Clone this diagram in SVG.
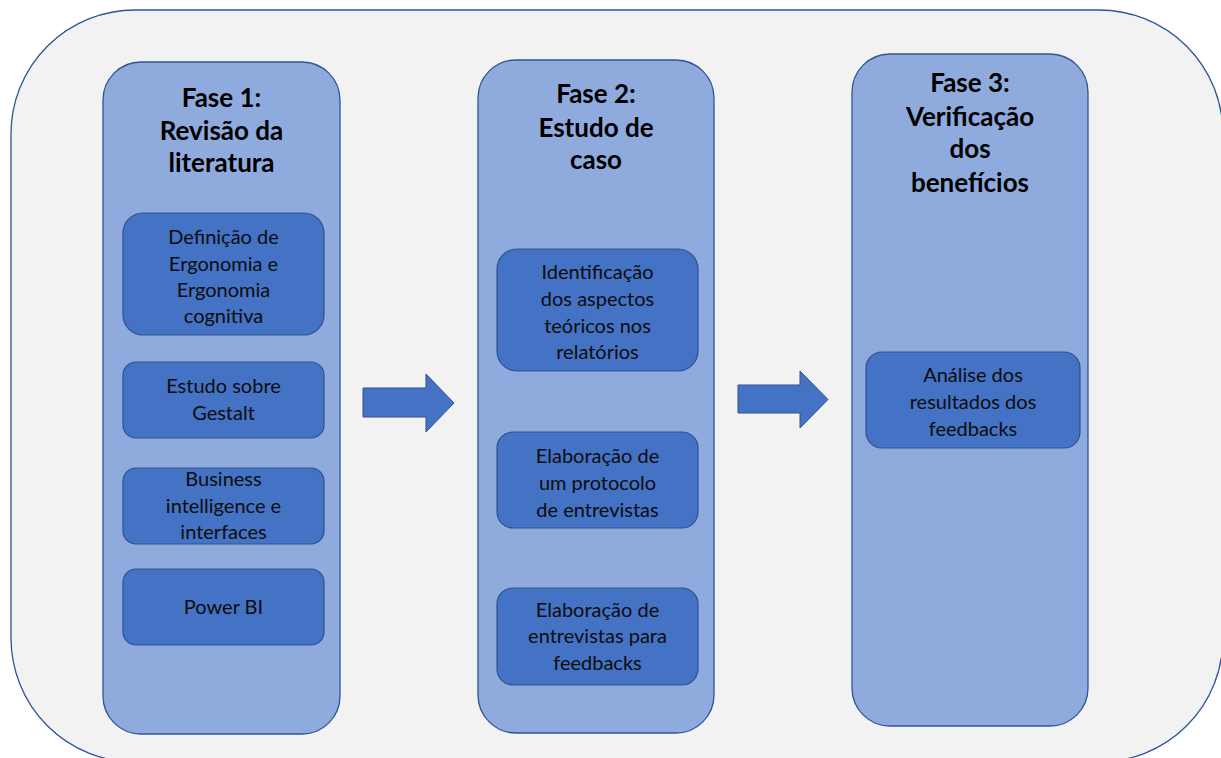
<svg xmlns="http://www.w3.org/2000/svg" width="1221" height="758" viewBox="0 0 1221 758">
<style>
.bg{fill:#ffffff}
.outer{fill:#F2F2F2;stroke:#2F5597;stroke-width:1.3}
.phase{fill:#8FAADC;stroke:#2F5597;stroke-width:1.3}
.item{fill:#4472C4;stroke:#2F528F;stroke-width:1.2}
.arrow{fill:#4472C4;stroke:#2F528F;stroke-width:1}
.title{font-family:Lato,"Open Sans",sans-serif;font-weight:bold;font-size:26px;fill:#000;text-anchor:middle}
.label{font-family:Lato,"Open Sans",sans-serif;font-size:20px;fill:#0d0d0d;text-anchor:middle}
</style>
<rect class="bg" x="0" y="0" width="1221" height="758"/>
<rect id="frame" class="outer" x="11" y="10" width="1212" height="752" rx="124"/>

<g id="phase1">
<rect class="phase" x="103" y="62" width="237" height="672" rx="38"/>
<text class="title" x="221.5" y="107">Fase 1:</text>
<text class="title" x="221.5" y="140">Revisão da</text>
<text class="title" x="221.5" y="172">literatura</text>
</g>
<g id="p1-def">
<rect class="item" x="123" y="213" width="201" height="122" rx="20"/>
<text class="label" x="223.5" y="244">Definição de</text>
<text class="label" x="223.5" y="271">Ergonomia e</text>
<text class="label" x="223.5" y="297">Ergonomia</text>
<text class="label" x="223.5" y="323">cognitiva</text>
</g>
<g id="p1-gestalt">
<rect class="item" x="123" y="362" width="201" height="76" rx="13"/>
<text class="label" x="223.5" y="393">Estudo sobre</text>
<text class="label" x="223.5" y="420">Gestalt</text>
</g>
<g id="p1-bi">
<rect class="item" x="123" y="468" width="201" height="76" rx="13"/>
<text class="label" x="223.5" y="486">Business</text>
<text class="label" x="223.5" y="513">intelligence e</text>
<text class="label" x="223.5" y="539">interfaces</text>
</g>
<g id="p1-powerbi">
<rect class="item" x="123" y="569" width="201" height="76" rx="13"/>
<text class="label" x="223.5" y="614">Power BI</text>
</g>

<g id="phase2">
<rect class="phase" x="478" y="60" width="236" height="673" rx="38"/>
<text class="title" x="596" y="103">Fase 2:</text>
<text class="title" x="596" y="137">Estudo de</text>
<text class="title" x="596" y="169">caso</text>
</g>
<g id="p2-ident">
<rect class="item" x="497" y="249" width="201" height="122" rx="20"/>
<text class="label" x="597.5" y="279">Identificação</text>
<text class="label" x="597.5" y="306">dos aspectos</text>
<text class="label" x="597.5" y="333">teóricos nos</text>
<text class="label" x="597.5" y="359">relatórios</text>
</g>
<g id="p2-protocolo">
<rect class="item" x="497" y="432" width="201" height="96" rx="16"/>
<text class="label" x="597.5" y="463">Elaboração de</text>
<text class="label" x="597.5" y="490">um protocolo</text>
<text class="label" x="597.5" y="517">de entrevistas</text>
</g>
<g id="p2-entrevistas">
<rect class="item" x="497" y="588" width="201" height="97" rx="16"/>
<text class="label" x="597.5" y="617">Elaboração de</text>
<text class="label" x="597.5" y="643">entrevistas para</text>
<text class="label" x="597.5" y="670">feedbacks</text>
</g>

<g id="phase3">
<rect class="phase" x="852" y="54" width="236" height="672" rx="38"/>
<text class="title" x="970" y="92">Fase 3:</text>
<text class="title" x="970" y="126">Verificação</text>
<text class="title" x="970" y="158">dos</text>
<text class="title" x="970" y="192">benefícios</text>
</g>
<g id="p3-analise">
<rect class="item" x="866" y="352" width="214" height="96" rx="16"/>
<text class="label" x="973" y="382">Análise dos</text>
<text class="label" x="973" y="409">resultados dos</text>
<text class="label" x="973" y="436">feedbacks</text>
</g>

<g id="connectors">
<path class="arrow" d="M363,388 L426,388 L426,374 L454,403 L426,432 L426,417 L363,417 Z"/>
<path class="arrow" d="M738,385 L800,385 L800,371 L828,399.5 L800,428 L800,413 L738,413 Z"/>
</g>
</svg>
